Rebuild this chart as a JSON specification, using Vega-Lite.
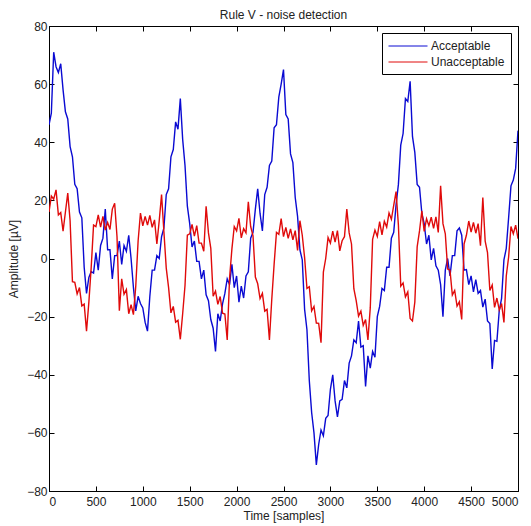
{
"$schema": "https://vega.github.io/schema/vega-lite/v6.json",
"width": 469, "height": 465,
"autosize": "none",
"padding": {"left": 49, "top": 26, "right": 13, "bottom": 35},
"background": "white",
"title": {"text": "Rule V - noise detection", "fontSize": 12, "fontWeight": "normal", "font": "Liberation Sans", "color": "#222", "offset": -2},
"data": {"values": [
{"t":0,"a":46,"u":16},{"t":25,"a":50,"u":21.5},{"t":50,"a":71,"u":20.4},{"t":75,"a":66,"u":23.6},{"t":100,"a":64,"u":15},{"t":125,"a":67,"u":15.8},{"t":150,"a":58,"u":9.4},{"t":175,"a":50.5,"u":16},{"t":200,"a":48,"u":22.5},{"t":225,"a":38.5,"u":13},
{"t":250,"a":35,"u":-8},{"t":275,"a":25.5,"u":-8.2},{"t":300,"a":24,"u":-12.2},{"t":325,"a":16,"u":-10},{"t":350,"a":14,"u":-16.3},{"t":375,"a":-3,"u":-15.7},{"t":400,"a":-12,"u":-25},{"t":425,"a":-6.5,"u":-15},{"t":450,"a":-4.5,"u":-3},{"t":475,"a":-5,"u":11.5},
{"t":500,"a":2,"u":11},{"t":525,"a":-4,"u":15},{"t":550,"a":4.5,"u":10.8},{"t":575,"a":7,"u":14.5},{"t":600,"a":17,"u":9.8},{"t":625,"a":3,"u":12.4},{"t":650,"a":3,"u":10},{"t":675,"a":-7,"u":17},{"t":700,"a":1,"u":19},{"t":725,"a":1,"u":7.5},
{"t":750,"a":6,"u":-18},{"t":775,"a":-2,"u":-7},{"t":800,"a":4.5,"u":-12.3},{"t":825,"a":2.5,"u":-10.7},{"t":850,"a":8,"u":-19},{"t":875,"a":0,"u":-15.9},{"t":900,"a":-10,"u":-19.3},{"t":925,"a":-18,"u":-9.5},{"t":950,"a":-13,"u":6},{"t":975,"a":-15.5,"u":15.6},
{"t":1000,"a":-17,"u":11.2},{"t":1025,"a":-22,"u":14.5},{"t":1050,"a":-25,"u":11.5},{"t":1075,"a":-13,"u":14.8},{"t":1100,"a":-4,"u":10.7},{"t":1125,"a":-4,"u":13.3},{"t":1150,"a":1,"u":5},{"t":1175,"a":0,"u":13},{"t":1200,"a":7.5,"u":22},{"t":1225,"a":10.5,"u":9.2},
{"t":1250,"a":22,"u":-3.3},{"t":1275,"a":24,"u":-10},{"t":1300,"a":35,"u":-18.7},{"t":1325,"a":37.5,"u":-16.5},{"t":1350,"a":47,"u":-21.9},{"t":1375,"a":44.5,"u":-21.3},{"t":1400,"a":55,"u":-27.8},{"t":1425,"a":41,"u":-19},{"t":1450,"a":32,"u":-9.3},{"t":1475,"a":18,"u":8},
{"t":1500,"a":12,"u":8.5},{"t":1525,"a":4,"u":11.7},{"t":1550,"a":6,"u":7.7},{"t":1575,"a":-1,"u":11.3},{"t":1600,"a":-1,"u":5.3},{"t":1625,"a":-7,"u":5.3},{"t":1650,"a":-4,"u":2.5},{"t":1675,"a":-12.5,"u":18},{"t":1700,"a":-14.5,"u":8.8},{"t":1725,"a":-21,"u":3.5},
{"t":1750,"a":-24,"u":-13},{"t":1775,"a":-32,"u":-11.2},{"t":1800,"a":-19,"u":-15.8},{"t":1825,"a":-21.5,"u":-13.1},{"t":1850,"a":-15.6,"u":-18.8},{"t":1875,"a":-12,"u":-19.1},{"t":1900,"a":-7,"u":-28},{"t":1925,"a":-9,"u":-6.7},{"t":1950,"a":-2,"u":3.3},{"t":1975,"a":-10,"u":11},
{"t":2000,"a":-6,"u":9.5},{"t":2025,"a":-15,"u":13.8},{"t":2050,"a":-9.5,"u":7.1},{"t":2075,"a":-13.6,"u":10.3},{"t":2100,"a":-6,"u":8.8},{"t":2125,"a":-4.6,"u":19.5},{"t":2150,"a":7,"u":11},{"t":2175,"a":9,"u":7.8},{"t":2200,"a":17,"u":-6.4},{"t":2225,"a":24,"u":-8.7},
{"t":2250,"a":15.5,"u":-13.8},{"t":2275,"a":9.5,"u":-12},{"t":2300,"a":22,"u":-18.1},{"t":2325,"a":24.5,"u":-17.5},{"t":2350,"a":32,"u":-28},{"t":2375,"a":33.5,"u":-14},{"t":2400,"a":45,"u":-2},{"t":2425,"a":46,"u":9},{"t":2450,"a":55.5,"u":8.3},{"t":2475,"a":60,"u":13.7},
{"t":2500,"a":65,"u":7.5},{"t":2525,"a":49.5,"u":10.7},{"t":2550,"a":48,"u":6.9},{"t":2575,"a":36,"u":10.2},{"t":2600,"a":33,"u":6.4},{"t":2625,"a":21,"u":9.6},{"t":2650,"a":14.5,"u":2.8},{"t":2675,"a":3,"u":13},{"t":2700,"a":-0.5,"u":8},{"t":2725,"a":-17.5,"u":0.3},
{"t":2750,"a":-24.5,"u":-10.3},{"t":2775,"a":-42,"u":-9.7},{"t":2800,"a":-53,"u":-18},{"t":2825,"a":-60,"u":-16.5},{"t":2850,"a":-71,"u":-22.2},{"t":2875,"a":-64,"u":-22.3},{"t":2900,"a":-59,"u":-29},{"t":2925,"a":-61,"u":-4.7},{"t":2950,"a":-55,"u":0},{"t":2975,"a":-54,"u":7.2},
{"t":3000,"a":-45,"u":5.3},{"t":3025,"a":-40,"u":9.4},{"t":3050,"a":-49,"u":5.6},{"t":3075,"a":-54.5,"u":9.6},{"t":3100,"a":-49,"u":2.6},{"t":3125,"a":-48.5,"u":6.1},{"t":3150,"a":-42,"u":7.5},{"t":3175,"a":-44.5,"u":17},{"t":3200,"a":-36,"u":8.8},{"t":3225,"a":-33.5,"u":5},
{"t":3250,"a":-28,"u":-10.4},{"t":3275,"a":-29,"u":-14.5},{"t":3300,"a":-21.5,"u":-19.8},{"t":3325,"a":-30.5,"u":-18.1},{"t":3350,"a":-30,"u":-23},{"t":3375,"a":-44,"u":-21},{"t":3400,"a":-33.5,"u":-28},{"t":3425,"a":-37.7,"u":-17},{"t":3450,"a":-32,"u":6.6},{"t":3475,"a":-34,"u":9.8},
{"t":3500,"a":-20,"u":7.6},{"t":3525,"a":-16.5,"u":12.7},{"t":3550,"a":-10.3,"u":8.1},{"t":3575,"a":-11,"u":12.8},{"t":3600,"a":-3,"u":10.8},{"t":3625,"a":-3,"u":15.7},{"t":3650,"a":7,"u":13.5},{"t":3675,"a":9,"u":18.3},{"t":3700,"a":18.5,"u":23},{"t":3725,"a":25.5,"u":11.5},
{"t":3750,"a":39,"u":-9.5},{"t":3775,"a":43,"u":-8.4},{"t":3800,"a":55,"u":-13.2},{"t":3825,"a":54,"u":-11.5},{"t":3850,"a":61,"u":-20.6},{"t":3875,"a":42,"u":-21.5},{"t":3900,"a":36.5,"u":-15},{"t":3925,"a":25.5,"u":4},{"t":3950,"a":24.5,"u":9.5},{"t":3975,"a":15.5,"u":16.4},
{"t":4000,"a":12,"u":9.3},{"t":4025,"a":5,"u":13.7},{"t":4050,"a":8,"u":11.3},{"t":4075,"a":-0.5,"u":14.2},{"t":4100,"a":3.5,"u":10.4},{"t":4125,"a":-2.5,"u":14.3},{"t":4150,"a":-4,"u":9},{"t":4175,"a":-9,"u":25},{"t":4200,"a":-20,"u":12},{"t":4225,"a":-4,"u":8.5},
{"t":4250,"a":0,"u":-3.6},{"t":4275,"a":-6,"u":-4},{"t":4300,"a":1,"u":-12.6},{"t":4325,"a":1,"u":-11},{"t":4350,"a":9.5,"u":-16.4},{"t":4375,"a":10.5,"u":-14.9},{"t":4400,"a":8,"u":-21},{"t":4425,"a":-4,"u":5},{"t":4450,"a":-3.8,"u":8},{"t":4475,"a":-9,"u":12.9},
{"t":4500,"a":-6,"u":9.1},{"t":4525,"a":-11.5,"u":12.4},{"t":4550,"a":-7.3,"u":8.7},{"t":4575,"a":-12,"u":12},{"t":4600,"a":-11,"u":4.4},{"t":4625,"a":-16.7,"u":21},{"t":4650,"a":-14,"u":6},{"t":4675,"a":-21.5,"u":2},{"t":4700,"a":-22.4,"u":-11},{"t":4725,"a":-38,"u":-9.1},
{"t":4750,"a":-28.2,"u":-16.8},{"t":4775,"a":-28.5,"u":-13.6},{"t":4800,"a":-18,"u":-17.7},{"t":4825,"a":-13.7,"u":-15.5},{"t":4850,"a":-0.5,"u":-22},{"t":4875,"a":3.5,"u":-6},{"t":4900,"a":14,"u":0.5},{"t":4925,"a":25,"u":11},{"t":4950,"a":27,"u":8.5},{"t":4975,"a":31,"u":11.5},
{"t":5000,"a":44,"u":6.8}
]},
"transform": [{"fold": ["a", "u"], "as": ["s", "v"]}],
"layer": [
  {
    "mark": {"type": "line", "strokeWidth": 1.4, "clip": true},
    "encoding": {
      "x": {"field": "t", "type": "quantitative", "scale": {"domain": [0, 5000], "nice": false},
            "axis": {"orient": "bottom", "values": [0,500,1000,1500,2000,2500,3000,3500,4000,4500,5000], "format": "d", "labelPadding": 10, "title": "Time [samples]", "titlePadding": 3}},
      "y": {"field": "v", "type": "quantitative", "scale": {"domain": [-80, 80], "nice": false},
            "axis": {"orient": "left", "values": [-80,-60,-40,-20,0,20,40,60,80], "format": "d", "labelPadding": 7, "title": "Amplitude [µV]", "titlePadding": 6}},
      "color": {"field": "s", "type": "nominal",
        "scale": {"domain": ["a", "u"], "range": ["#0a0ad2", "#e00a0a"]},
        "legend": {"orient": "none", "legendX": 333, "legendY": 7, "title": null,
          "labelExpr": "datum.value == 'a' ? 'Acceptable' : 'Unacceptable'",
          "symbolType": "M-1,0H5", "symbolSize": 169, "symbolStrokeWidth": 1,
          "strokeColor": "black", "fillColor": "white", "padding": 6,
          "labelFont": "Liberation Sans", "labelFontSize": 12, "labelColor": "#222", "labelOffset": 29, "rowPadding": 3}}
    }
  },
  {
    "mark": {"type": "point", "opacity": 0},
    "encoding": {
      "x": {"field": "t", "type": "quantitative", "scale": {"domain": [0, 5000], "nice": false},
            "axis": {"orient": "top", "values": [0,500,1000,1500,2000,2500,3000,3500,4000,4500,5000], "labels": false, "title": null, "domain": false}},
      "y": {"field": "v", "type": "quantitative", "scale": {"domain": [-80, 80], "nice": false},
            "axis": {"orient": "right", "values": [-80,-60,-40,-20,0,20,40,60,80], "labels": false, "title": null, "domain": false}}
    }
  }
],
"resolve": {"axis": {"x": "independent", "y": "independent"}},
"config": {
  "view": {"stroke": "black", "strokeWidth": 1},
  "axis": {"grid": false, "domainColor": "black", "tickColor": "black", "tickSize": -5, "labelPadding": 5,
           "labelFont": "Liberation Sans", "labelFontSize": 12, "labelColor": "#222",
           "titleFont": "Liberation Sans", "titleFontSize": 12, "titleFontWeight": "normal", "titleColor": "#222"}
}
}
